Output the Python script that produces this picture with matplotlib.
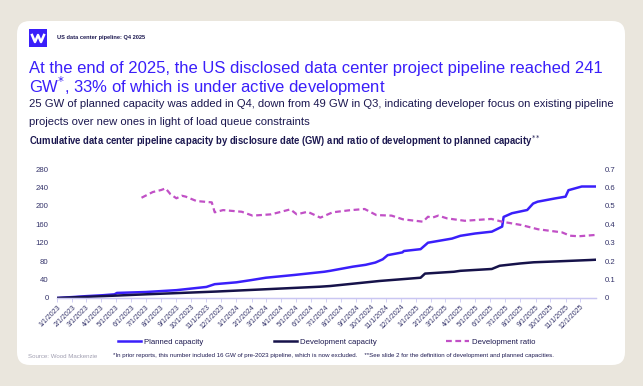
import matplotlib
matplotlib.use("Agg")
import matplotlib.pyplot as plt
from matplotlib.patches import FancyBboxPatch, Rectangle
import pandas as pd

plt.rcParams['font.family'] = ['Liberation Sans', 'DejaVu Sans']

# ---------------- data ----------------
planned_dates = ["2023-01-01", "2023-02-01", "2023-03-01", "2023-04-04", "2023-04-28", "2023-05-03",
                 "2023-07-01", "2023-09-01", "2023-11-01", "2023-11-18", "2024-01-01", "2024-02-01",
                 "2024-03-01", "2024-04-28", "2024-06-28", "2024-07-10", "2024-08-25", "2024-09-20",
                 "2024-10-10", "2024-10-25", "2024-11-04", "2024-12-04", "2024-12-07", "2025-01-10",
                 "2025-01-25", "2025-03-15", "2025-04-01", "2025-05-01", "2025-06-04", "2025-06-25",
                 "2025-06-28", "2025-07-15", "2025-08-15", "2025-08-27", "2025-09-05", "2025-10-10",
                 "2025-11-01", "2025-11-07", "2025-12-04", "2025-12-31"]
planned_gw = [0, 2, 4, 6, 8, 11, 13, 17, 24, 30, 34, 39, 44, 50, 57, 59, 68, 72, 77, 84, 93, 99,
              102, 106, 120, 129, 135, 140, 144, 155, 176, 184, 191, 205, 209, 216, 220, 234, 242, 242]

dev_dates = ["2023-01-01", "2023-04-04", "2023-07-01", "2023-11-21", "2024-03-01", "2024-06-19",
             "2024-07-10", "2024-10-19", "2025-01-10", "2025-01-19", "2025-03-19", "2025-04-01",
             "2025-06-04", "2025-06-20", "2025-08-01", "2025-08-28", "2025-10-15", "2025-12-22",
             "2025-12-31"]
dev_gw = [0, 4, 8, 14, 19, 24.5, 26, 37, 44, 53, 57, 59, 63, 70, 75, 77.5, 79.5, 82.5, 83]

ratio_dates = ["2023-06-22", "2023-07-15", "2023-08-01", "2023-08-10", "2023-08-20", "2023-09-01",
               "2023-09-12", "2023-09-20", "2023-10-12", "2023-11-12", "2023-11-18", "2023-12-05",
               "2024-01-12", "2024-02-03", "2024-03-12", "2024-04-20", "2024-05-03", "2024-05-25",
               "2024-06-20", "2024-07-15", "2024-08-18", "2024-09-18", "2024-10-12", "2024-11-12",
               "2024-12-05", "2025-01-15", "2025-01-25", "2025-02-03", "2025-02-15", "2025-03-05",
               "2025-04-10", "2025-06-03", "2025-06-25", "2025-08-03", "2025-09-06", "2025-10-25",
               "2025-11-10", "2025-11-28", "2025-12-31"]
ratio_vals = [0.544, 0.575, 0.586, 0.595, 0.563, 0.541, 0.555, 0.55, 0.526, 0.519, 0.465, 0.477,
              0.468, 0.447, 0.454, 0.481, 0.454, 0.468, 0.436, 0.465, 0.476, 0.483, 0.45, 0.447,
              0.427, 0.414, 0.441, 0.436, 0.447, 0.432, 0.419, 0.429, 0.414, 0.396, 0.373, 0.356,
              0.338, 0.335, 0.342]

left_ticks = [0, 40, 80, 120, 160, 200, 240, 280]
right_ticks = [0, 0.1, 0.2, 0.3, 0.4, 0.5, 0.6, 0.7]
tick_months = pd.date_range("2023-01-01", "2025-12-01", freq="MS")

# ---------------- colours ----------------
BG = "#EAE6DD"
BLUE = "#3A1FFA"
NAVY = "#16124A"
PINK = "#C150C6"
TXT = "#1C1850"
AXC = "#34336A"

W, H = 643, 386
fig = plt.figure(figsize=(W / 100, H / 100), dpi=100)
fig.patch.set_facecolor(BG)

def fx(px):
    return px / W

def fy(py):
    return 1 - py / H

# white card
card = FancyBboxPatch((fx(17), fy(365)), fx(625) - fx(17), fy(21) - fy(365),
                      boxstyle="round,pad=0,rounding_size=0.02", transform=fig.transFigure,
                      facecolor="white", edgecolor="none", zorder=-10,
                      mutation_aspect=W / H)
fig.patches.append(card)

# logo
fig.patches.append(Rectangle((fx(29), fy(47)), fx(18), fy(29) - fy(47), transform=fig.transFigure,
                             facecolor=BLUE, edgecolor="none", zorder=1))
fig.lines.append(plt.Line2D([fx(32), fx(35), fx(38), fx(41), fx(44)],
                            [fy(35), fy(42), fy(35), fy(42), fy(35)],
                            transform=fig.transFigure, color="white", lw=1.8, zorder=2))

fig.text(fx(57), fy(38), "US data center pipeline: Q4 2025", fontsize=4.1, fontweight="bold",
         color=TXT, va="center", ha="left")

fig.text(fx(29), fy(68), "At the end of 2025, the US disclosed data center project pipeline reached 241",
         fontsize=12.0, color=BLUE, va="center", ha="left")
fig.text(fx(29), fy(86), "GW$^{*}$, 33% of which is under active development",
         fontsize=12.0, color=BLUE, va="center", ha="left")
fig.text(fx(29), fy(104), "25 GW of planned capacity was added in Q4, down from 49 GW in Q3, indicating developer focus on existing pipeline",
         fontsize=8.15, color=TXT, va="center", ha="left")
fig.text(fx(29), fy(122), "projects over new ones in light of load queue constraints",
         fontsize=8.15, color=TXT, va="center", ha="left")
fig.text(fx(29), fy(141), "Cumulative data center pipeline capacity by disclosure date (GW) and ratio of development to planned capacity$^{**}$",
         fontsize=6.85, fontweight="bold", color=TXT, va="center", ha="left")

# ---------------- axes ----------------
ax = fig.add_axes([fx(57), fy(298), fx(596) - fx(57), fy(169) - fy(298)])
ax.set_facecolor("none")
ax2 = ax.twinx()

pdts = pd.to_datetime(planned_dates)
ddts = pd.to_datetime(dev_dates)
rdts = pd.to_datetime(ratio_dates)

l1, = ax.plot(pdts, planned_gw, color=BLUE, lw=1.8, label="Planned capacity")
l2, = ax.plot(ddts, dev_gw, color=NAVY, lw=1.8, label="Development capacity")
l3, = ax2.plot(rdts, ratio_vals, color=PINK, lw=1.6, ls=(0, (2.6, 1.6)), label="Development ratio")

ax.set_xlim(pd.Timestamp("2023-01-01"), pd.Timestamp("2026-01-02"))
ax.set_ylim(0, 280)
ax2.set_ylim(0, 0.7)
ax.set_yticks(left_ticks)
ax.set_yticklabels([str(v) for v in left_ticks])
ax2.set_yticks(right_ticks)
ax2.set_yticklabels(["0" if v == 0 else f"{v:g}" for v in right_ticks])

ax.set_xticks(tick_months)
ax.set_xticklabels([f"{d.month}/1/{d.year}" for d in tick_months], rotation=45, ha="right",
                   rotation_mode="anchor", fontsize=5.0, color=AXC)

for a in (ax, ax2):
    for s in ("top", "left", "right"):
        a.spines[s].set_visible(False)
    a.spines["bottom"].set_color("#C9C6F2")
    a.spines["bottom"].set_linewidth(0.9)
ax.tick_params(axis="y", length=0, labelsize=5.6, labelcolor=AXC, pad=6)
ax2.tick_params(axis="y", length=0, labelsize=5.6, labelcolor=AXC, pad=6)
ax.tick_params(axis="x", length=3, color="#C9C6F2", width=0.6, pad=1)

# legend entries placed like the reference
for h, xstart in ((l1, 118), (l2, 274), (l3, 446)):
    fig.legend(handles=[h], loc="center left", bbox_to_anchor=(fx(xstart), fy(342)),
               frameon=False, fontsize=5.6, labelcolor=TXT, handlelength=3.0,
               handletextpad=0.35, borderpad=0, borderaxespad=0)

fig.text(fx(28), fy(356), "Source: Wood Mackenzie", fontsize=4.4, color="#A09EB0", va="center")
fig.text(fx(113), fy(356), "*In prior reports, this number included 16 GW of pre-2023 pipeline, which is now excluded.    **See slide 2 for the definition of development and planned capacities.",
         fontsize=4.4, color=TXT, va="center")

fig.savefig("out.png", dpi=100, facecolor=BG)
